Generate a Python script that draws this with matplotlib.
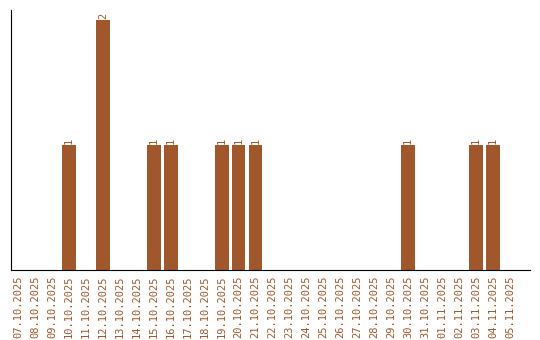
import matplotlib
matplotlib.use("Agg")
import matplotlib.pyplot as plt

dates = ["07.10.2025", "08.10.2025", "09.10.2025", "10.10.2025", "11.10.2025",
         "12.10.2025", "13.10.2025", "14.10.2025", "15.10.2025", "16.10.2025",
         "17.10.2025", "18.10.2025", "19.10.2025", "20.10.2025", "21.10.2025",
         "22.10.2025", "23.10.2025", "24.10.2025", "25.10.2025", "26.10.2025",
         "27.10.2025", "28.10.2025", "29.10.2025", "30.10.2025", "31.10.2025",
         "01.11.2025", "02.11.2025", "03.11.2025", "04.11.2025", "05.11.2025"]
counts = [0, 0, 0, 1, 0, 2, 0, 0, 1, 1, 0, 0, 1, 1, 1, 0, 0, 0, 0, 0,
          0, 0, 0, 1, 0, 0, 0, 1, 1, 0]

color = "#A0572B"
fig = plt.figure(figsize=(5.4, 3.4), dpi=100)
ax = fig.add_axes([11/540, 70/340, 519/540, 260/340])
x = list(range(len(dates)))
ax.bar(x, counts, width=0.82, color=color)
for xi, v in zip(x, counts):
    if v > 0:
        ax.text(xi, v + 0.01, str(v), rotation=90, ha="center", va="bottom",
                fontsize=7.5, color=color, family="DejaVu Sans Mono")
ax.set_xlim(-0.41, 30.18)
ax.set_ylim(0, 2.08)
ax.set_xticks(x)
ax.set_xticklabels(dates, rotation=90, fontsize=7.5, color=color, family="DejaVu Sans Mono")
ax.tick_params(axis="x", length=0, pad=4)
ax.set_yticks([])
for s in ["top", "right"]:
    ax.spines[s].set_visible(False)
ax.spines["left"].set_color("black")
ax.spines["bottom"].set_color("black")
fig.savefig("out.png", dpi=100)
